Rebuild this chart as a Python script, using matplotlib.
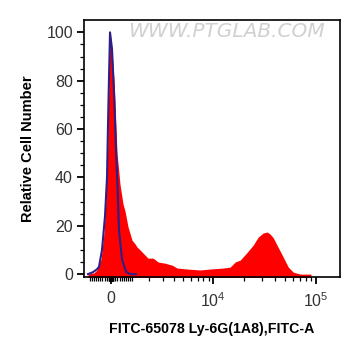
import numpy as np
import matplotlib
matplotlib.use("Agg")
import matplotlib.pyplot as plt
from matplotlib.ticker import FixedLocator, FixedFormatter

plt.rcParams["font.family"] = ["Liberation Sans", "DejaVu Sans"]
plt.rcParams["mathtext.fontset"] = "custom"
plt.rcParams["mathtext.rm"] = "Liberation Sans"
plt.rcParams["mathtext.it"] = "Liberation Sans"

# sample (red, filled) histogram: intensity vs relative count
sample_x = [-1110, -806, -658, -466, -325, -232, -162, -116, -46, 46, 139, 185, 278, 419, 561,
            658, 805, 1007, 1163, 1270, 1436, 1609, 1910, 2242, 2596, 3149, 3780, 4287, 5474,
            7417, 9349, 12572, 14731, 16490, 18460, 21602, 24710, 27643, 30928, 33841, 36196,
            38717, 43290, 48414, 54144, 60580, 70843, 90000]
sample_y = [0, 0.5, 1.7, 6, 17, 31, 50, 72, 100, 93, 80, 71, 50, 37, 29,
            26, 19.5, 14, 12.5, 11.2, 10, 8.7, 6.6, 6.6, 5, 4.5, 3.7, 2.5, 2.1,
            1.7, 2.1, 2.5, 2.9, 5, 5.8, 9, 12, 15.3, 17, 17.4, 16.5,
            15, 11, 7, 2.9, 0.8, 0, 0]

# isotype control (blue line)
ctrl_x = [-1110, -855, -658, -561, -419, -278, -185, -139, -92, -46, 46, 139, 232, 301,
          372, 514, 706, 905, 1200]
ctrl_y = [0, 0.8, 2, 3, 10, 24, 40, 62, 82, 100, 93, 75, 51, 36,
          18, 6, 1, 0, 0]

W = 2066.0  # linear width of the asinh display scale


def fwd(v):
    return np.arcsinh(np.asarray(v, dtype=float) / W)


def inv(v):
    return W * np.sinh(np.asarray(v, dtype=float))


fig = plt.figure(figsize=(3.61, 3.56), dpi=100)
ax = fig.add_axes([0.2327, 0.2219, 0.7091, 0.7219])
ax.set_xscale("function", functions=(fwd, inv))
ax.set_xlim(-1324, 172000)
ax.set_ylim(-1.2, 105.1)

ax.fill_between(sample_x, sample_y, -2, color="#ff0000", lw=0)
ax.plot(ctrl_x, ctrl_y, color="#2c1f88", lw=1.5)

major_x = [0, 1e4, 1e5]
minor_x = ([-1000 + 100 * i for i in range(10)] + [100 * i for i in range(1, 11)]
           + [-10 * i for i in range(1, 10)] + [10 * i for i in range(1, 10)]
           + [1000 * i for i in range(2, 10)] + [10000 * i for i in range(2, 10)])
ax.xaxis.set_major_locator(FixedLocator(major_x))
ax.xaxis.set_major_formatter(FixedFormatter(["0", "$10^4$", "$10^5$"]))
ax.xaxis.set_minor_locator(FixedLocator(minor_x))

ax.set_yticks([0, 20, 40, 60, 80, 100])
ax.set_yticks(np.arange(0, 105, 5), minor=True)

ax.tick_params(axis="both", which="major", direction="out", length=5, width=1.3,
               labelsize=11.5, color="black", labelcolor="#333333")
ax.tick_params(axis="x", which="major", pad=5)
ax.tick_params(axis="y", which="major", pad=3)
ax.tick_params(axis="both", which="minor", direction="out", length=3, width=0.9)
for s in ax.spines.values():
    s.set_linewidth(1.2)

ax.set_ylabel("Relative Cell Number", fontsize=10.5, fontweight="bold", labelpad=8)
ax.set_xlabel("FITC-65078 Ly-6G(1A8),FITC-A", fontsize=10.2, fontweight="bold", labelpad=9)

ax.text(0.557, 0.955, "WWW.PTGLAB.COM", transform=ax.transAxes, ha="center", va="center",
        fontsize=14.5, color="#d0d0d0", style="italic", family="DejaVu Sans")

fig.savefig("out.png", dpi=100)
